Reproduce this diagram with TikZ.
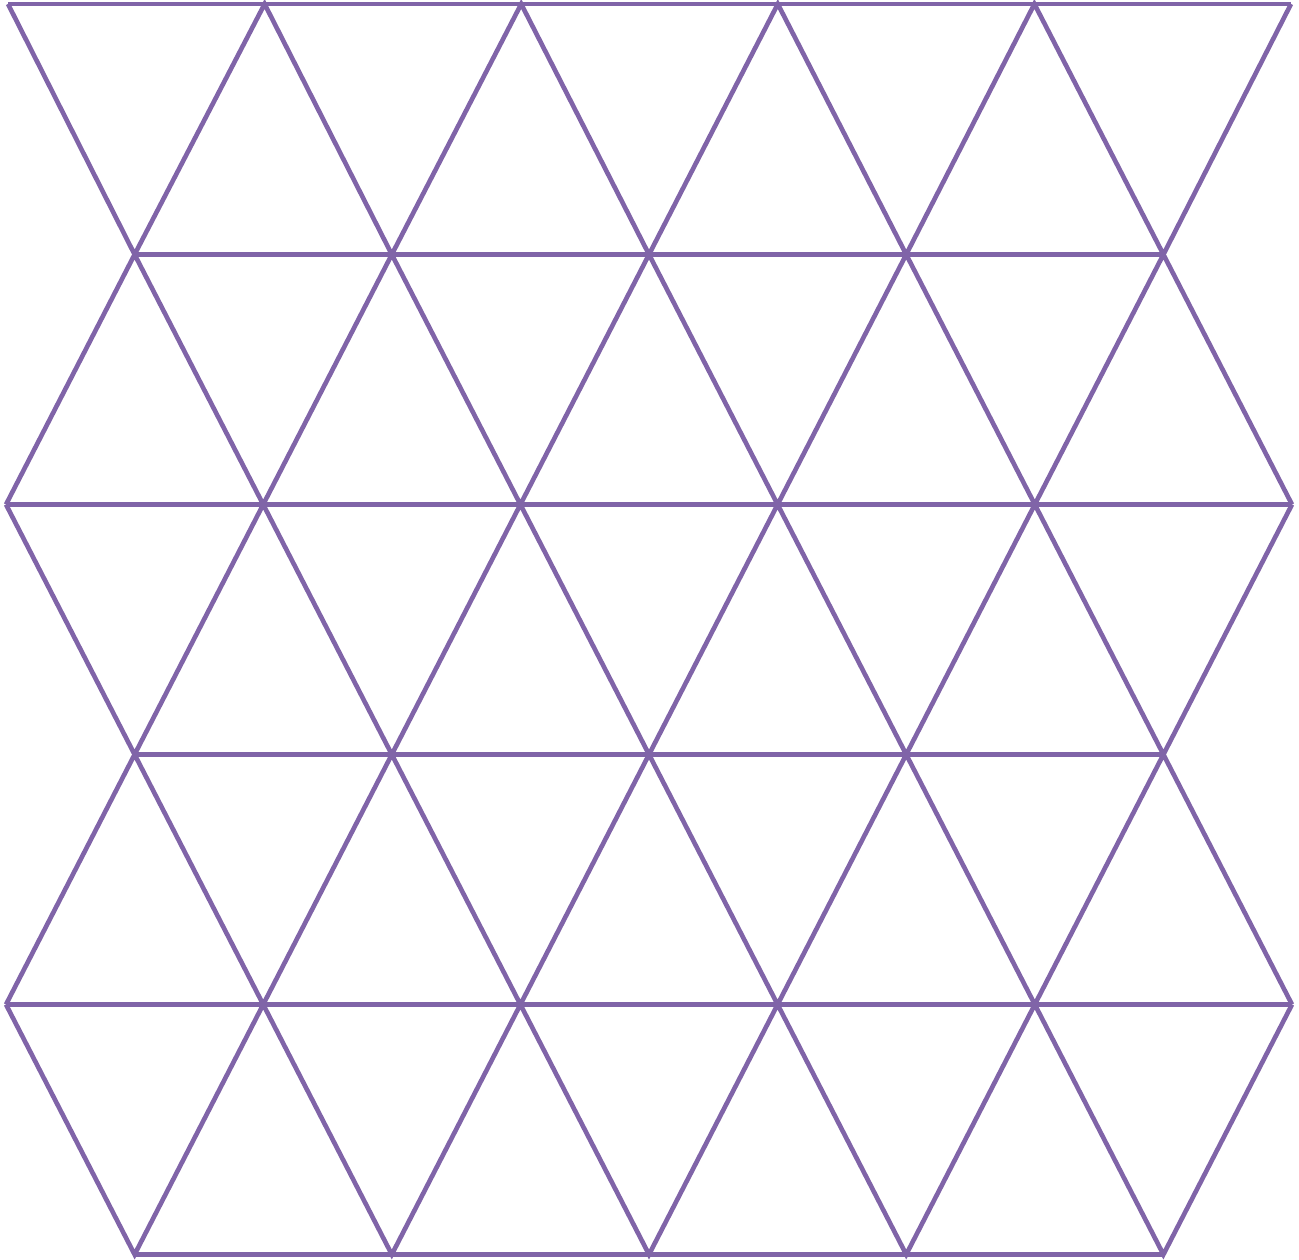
\documentclass[tikz,border=0pt]{standalone}
\usetikzlibrary{calc}
\definecolor{gridpurple}{RGB}{128,100,168}
\begin{document}
\begin{tikzpicture}[x=1pt,y=-1pt,
  gridline/.style={draw=gridpurple,line width=4.6pt,line join=miter}]
\useasboundingbox (0,0) rectangle (1299,1260);
% vertices
\foreach \i in {0,...,5} {\coordinate (v-0-\i) at ({8+256.6*\i},4);}
\foreach \r in {2,4} {
  \foreach \i in {0,...,5} {\coordinate (v-\r-\i) at ({6+257.2*\i},{4.5+250*\r});}
}
\foreach \r in {1,3,5} {
  \foreach \i in {0,...,4} {\coordinate (v-\r-\i) at ({134.6+257.2*\i},{4.5+250*\r});}
}
% horizontal lines
\foreach \r in {0,2,4} {\draw[gridline] (v-\r-0) -- (v-\r-5);}
\foreach \r in {1,3,5} {\draw[gridline] (v-\r-0) -- (v-\r-4);}
% zigzags
\foreach \E/\O in {0/1,2/1,2/3,4/3,4/5} {
  \draw[gridline] (v-\E-0)
    -- (v-\O-0) -- (v-\E-1)
    -- (v-\O-1) -- (v-\E-2)
    -- (v-\O-2) -- (v-\E-3)
    -- (v-\O-3) -- (v-\E-4)
    -- (v-\O-4) -- (v-\E-5);
}
\end{tikzpicture}
\end{document}
